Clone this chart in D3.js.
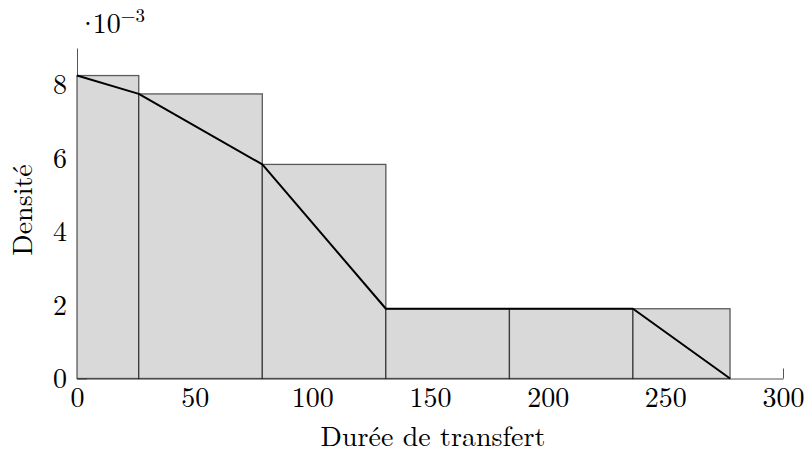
<!DOCTYPE html>
<html>
<head>
<meta charset="utf-8">
<script src="https://cdn.jsdelivr.net/npm/d3@7"></script>
<style>
  body { margin: 0; background: #fff; }
</style>
</head>
<body>
<svg id="chart" width="812" height="454"></svg>
<script>
// histogram bins (x in transfer time, density in 1e-3)
var binEdges = [0, 26.25, 78.75, 131.25, 183.75, 236.25, 277.5];
var densities = [8.25, 7.75, 5.83, 1.9, 1.9, 1.9];
var xTicks = [0, 50, 100, 150, 200, 250, 300];
var yTicks = [0, 2, 4, 6, 8];

var serif = "'Latin Modern Roman'";

var svg = d3.select("#chart");

var x = d3.scaleLinear().domain([0, 300]).range([77, 783]);
var y = d3.scaleLinear().domain([0, 9]).range([378.5, 48]);

// axes first, bars drawn over the inner ticks
var xAxis = svg.append("g")
	.attr("transform", "translate(0,378.5)")
	.call(d3.axisBottom(x).tickValues(xTicks).tickSizeInner(-10).tickSizeOuter(0).tickPadding(9));
var yAxis = svg.append("g")
	.attr("transform", "translate(77,0)")
	.call(d3.axisLeft(y).tickValues(yTicks).tickSizeInner(-10).tickSizeOuter(0).tickPadding(10));

[xAxis, yAxis].forEach(function(a) {
	a.attr("font-family", null).attr("font-size", null);
	a.selectAll("path, line").attr("stroke", "#555").attr("stroke-width", 1);
	a.selectAll("text").attr("fill", "#000")
		.style("font-family", serif).style("font-size", "28px");
});

var bins = densities.map(function(d, i) {
	return {x0: binEdges[i], x1: binEdges[i + 1], h: d};
});

svg.append("g").selectAll("rect")
	.data(bins)
	.enter().append("rect")
		.attr("x", function(d) { return x(d.x0); })
		.attr("y", function(d) { return y(d.h); })
		.attr("width", function(d) { return x(d.x1) - x(d.x0); })
		.attr("height", function(d) { return y(0) - y(d.h); })
		.attr("fill", "#d9d9d9")
		.attr("stroke", "#000")
		.attr("stroke-opacity", 0.62)
		.attr("stroke-width", 1.3);

// polygon through the left corner of each bar, down to zero at the end
var pts = bins.map(function(d) { return [d.x0, d.h]; });
pts.push([binEdges[binEdges.length - 1], 0]);

svg.append("path")
	.datum(pts)
	.attr("fill", "none")
	.attr("stroke", "#000")
	.attr("stroke-width", 2)
	.attr("stroke-linejoin", "round")
	.attr("d", d3.line().x(function(d) { return x(d[0]); }).y(function(d) { return y(d[1]); }));

// exponent label
var expo = svg.append("text")
	.attr("x", 77)
	.attr("y", 33)
	.style("font-family", serif)
	.style("font-size", "28px");
expo.append("tspan").text("·");
expo.append("tspan").attr("dx", -6).text("10");
expo.append("tspan").attr("dy", -11).style("font-size", "19px").text("−3");

svg.append("text")
	.attr("x", 433)
	.attr("y", 446)
	.attr("text-anchor", "middle")
	.style("font-family", serif)
	.style("font-size", "28px")
	.text("Durée de transfert");

svg.append("text")
	.attr("transform", "translate(32,210) rotate(-90)")
	.attr("text-anchor", "middle")
	.style("font-family", serif)
	.style("font-size", "28px")
	.text("Densité");
</script>
</body>
</html>
